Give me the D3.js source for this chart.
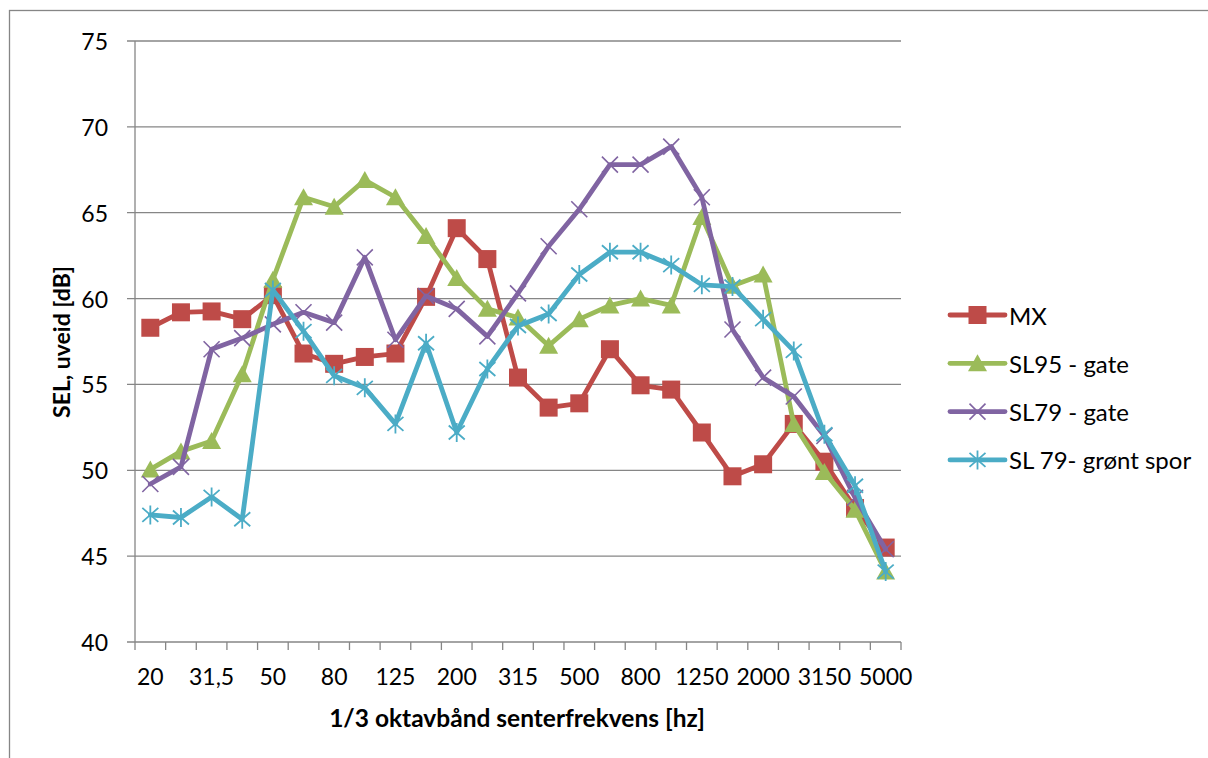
<!DOCTYPE html>
<html>
<head>
<meta charset="utf-8">
<script src="https://cdn.jsdelivr.net/npm/d3@7"></script>
<style>
  html, body { margin: 0; padding: 0; background: #fff; }
  svg { display: block; font-family: Lato, "Open Sans", sans-serif; }
</style>
</head>
<body>
<script>
const width = 1208;
const height = 758;

// 1/3 octave band centre frequencies
const bands = ["20", "25", "31,5", "40", "50", "63", "80", "100", "125", "160", "200", "250", "315",
  "400", "500", "630", "800", "1000", "1250", "1600", "2000", "2500", "3150", "4000", "5000"];
const yTicks = [40, 45, 50, 55, 60, 65, 70, 75];

const mx = [58.3, 59.2, 59.25, 58.8, 60.2, 56.8, 56.2, 56.6, 56.8, 60.1, 64.1, 62.3, 55.4,
  53.65, 53.9, 57.05, 54.95, 54.7, 52.2, 49.65, 50.35, 52.7, 50.5, 47.8, 45.5];
const sl95 = [50.05, 51.1, 51.7, 55.6, 61.1, 65.9, 65.35, 66.9, 65.9, 63.65, 61.2, 59.4, 58.9,
  57.25, 58.8, 59.6, 60.0, 59.6, 64.75, 60.75, 61.4, 52.7, 49.9, 47.7, 44.1];
const sl79 = [49.2, 50.2, 57.05, 57.7, 58.5, 59.2, 58.6, 62.4, 57.6, 60.15, 59.4, 57.8, 60.3,
  63.05, 65.2, 67.8, 67.8, 68.85, 65.9, 58.2, 55.4, 54.3, 52.0, 48.4, 45.4];
const sl79Green = [47.4, 47.25, 48.45, 47.15, 60.5, 58.1, 55.5, 54.8, 52.7, 57.4, 52.2, 55.9, 58.4,
  59.1, 61.4, 62.7, 62.7, 61.95, 60.8, 60.7, 58.8, 56.95, 52.1, 49.1, 44.1];

const seriesNames = ["MX", "SL95 - gate", "SL79 - gate", "SL 79- grønt spor"];
const seriesValues = [mx, sl95, sl79, sl79Green];
const seriesColors = ["#BE4B48", "#9BBB59", "#8064A2", "#4BACC6"];
const seriesMarkers = ["square", "triangle", "x", "star"];

const series = seriesNames.map((name, i) => ({
  name,
  values: seriesValues[i],
  color: seriesColors[i],
  marker: seriesMarkers[i]
}));

const plot = { left: 135, right: 901, top: 41, bottom: 642 };

const svg = d3.select("body")
  .append("svg")
  .attr("width", width)
  .attr("height", height);

// chart area border
svg.append("rect")
  .attr("x", 9.5)
  .attr("y", 10.5)
  .attr("width", 1220)
  .attr("height", 770)
  .attr("fill", "#fff")
  .attr("stroke", "#868686")
  .attr("stroke-width", 1.3);

const x = d3.scaleBand()
  .domain(bands)
  .range([plot.left, plot.right])
  .padding(0);

const y = d3.scaleLinear()
  .domain([40, 75])
  .range([plot.bottom, plot.top]);

// gridlines
svg.append("g")
  .selectAll("line")
  .data(yTicks)
  .join("line")
  .attr("x1", plot.left - 8)
  .attr("x2", plot.right)
  .attr("y1", d => y(d))
  .attr("y2", d => y(d))
  .attr("stroke", "#868686")
  .attr("stroke-width", 1.3);

// y axis
svg.append("line")
  .attr("x1", plot.left).attr("x2", plot.left)
  .attr("y1", plot.top).attr("y2", plot.bottom)
  .attr("stroke", "#868686")
  .attr("stroke-width", 1.3);

svg.append("g")
  .selectAll("text")
  .data(yTicks)
  .join("text")
  .attr("x", 108)
  .attr("y", d => y(d))
  .attr("text-anchor", "end")
  .attr("dominant-baseline", "central")
  .style("font-size", "23px")
  .text(d => d);

// x axis ticks at band boundaries
const boundaries = bands.map(b => x(b)).concat([plot.right]);
svg.append("g")
  .selectAll("line")
  .data(boundaries)
  .join("line")
  .attr("x1", d => d).attr("x2", d => d)
  .attr("y1", plot.bottom)
  .attr("y2", plot.bottom + 8)
  .attr("stroke", "#868686")
  .attr("stroke-width", 1.3);

svg.append("g")
  .selectAll("text")
  .data(bands.filter((d, i) => i % 2 === 0))
  .join("text")
  .attr("x", d => x(d) + x.bandwidth() / 2)
  .attr("y", 676)
  .attr("text-anchor", "middle")
  .attr("dominant-baseline", "central")
  .style("font-size", "23px")
  .text(d => d);

// axis titles
svg.append("text")
  .attr("x", 517)
  .attr("y", 717)
  .attr("text-anchor", "middle")
  .attr("dominant-baseline", "central")
  .style("font-size", "24.5px")
  .style("font-weight", "bold")
  .text("1/3 oktavbånd senterfrekvens [hz]");

svg.append("text")
  .attr("transform", "translate(61,342) rotate(-90)")
  .attr("text-anchor", "middle")
  .attr("dominant-baseline", "central")
  .style("font-size", "23px")
  .style("font-weight", "bold")
  .text("SEL, uveid [dB]");

function drawMarker(g, type, color) {
  if (type === "square") {
    g.append("rect")
      .attr("x", -9).attr("y", -9)
      .attr("width", 18).attr("height", 18)
      .attr("fill", color);
  } else if (type === "triangle") {
    g.append("path")
      .attr("d", "M0,-9L9.5,8L-9.5,8Z")
      .attr("fill", color);
  } else if (type === "x") {
    g.append("path")
      .attr("d", "M-8,-8L8,8M-8,8L8,-8")
      .attr("stroke", color)
      .attr("stroke-width", 1.6)
      .attr("fill", "none");
  } else {
    g.append("path")
      .attr("d", "M0,-9.5L0,9.5M-8,-7L8,7M-8,7L8,-7")
      .attr("stroke", color)
      .attr("stroke-width", 1.8)
      .attr("fill", "none");
  }
}

const line = d3.line()
  .x((d, i) => x(bands[i]) + x.bandwidth() / 2)
  .y(d => y(d));

series.forEach(s => {
  const g = svg.append("g");
  g.append("path")
    .attr("d", line(s.values))
    .attr("fill", "none")
    .attr("stroke", s.color)
    .attr("stroke-width", 4.8)
    .attr("stroke-linejoin", "round")
    .attr("stroke-linecap", "round");
  g.selectAll(".marker")
    .data(s.values)
    .join("g")
    .attr("class", "marker")
    .attr("transform", (d, i) => `translate(${x(bands[i]) + x.bandwidth() / 2},${y(d)})`)
    .each(function () { drawMarker(d3.select(this), s.marker, s.color); });
});

// legend
const legend = svg.append("g")
  .selectAll("g")
  .data(series)
  .join("g")
  .attr("transform", (d, i) => `translate(950,${315 + i * 48.3})`);

legend.append("line")
  .attr("x1", 0).attr("x2", 55)
  .attr("stroke", d => d.color)
  .attr("stroke-width", 4.8)
  .attr("stroke-linecap", "round");

legend.append("g")
  .attr("transform", "translate(27.5,0)")
  .each(function (d) { drawMarker(d3.select(this), d.marker, d.color); });

legend.append("text")
  .attr("x", 59)
  .attr("dominant-baseline", "central")
  .style("font-size", "24px")
  .text(d => d.name);
</script>
</body>
</html>
